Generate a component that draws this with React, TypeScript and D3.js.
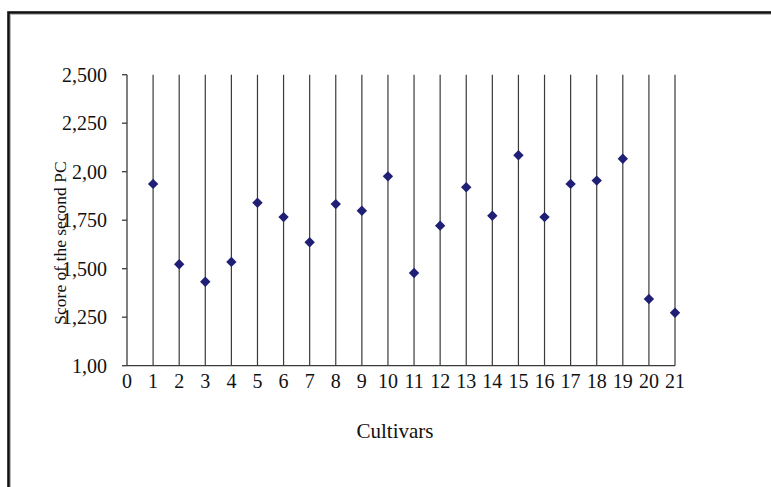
import React from "react";
import * as d3 from "d3";

const cultivars = [1, 2, 3, 4, 5, 6, 7, 8, 9, 10, 11, 12, 13, 14, 15, 16, 17, 18, 19, 20, 21];
const scores = [1.937, 1.523, 1.433, 1.535, 1.84, 1.766, 1.636, 1.833, 1.799, 1.976, 1.478, 1.722, 1.92, 1.773, 2.085, 1.766, 1.937, 1.954, 2.067, 1.344, 1.273];
const yTickValues = [1.0, 1.25, 1.5, 1.75, 2.0, 2.25, 2.5];
const yTickLabels = ["1,00", "1,250", "1,500", "1,750", "2,00", "2,250", "2,500"];
const xTickValues = d3.range(0, 22);

const W = 771;
const H = 487;
const FONT = "'Liberation Serif', 'Times New Roman', serif";

export default function App() {
  const x = d3.scaleLinear().domain([0, 21]).range([127, 675]);
  const y = d3.scaleLinear().domain([1, 2.5]).range([365.7, 74.7]);
  const diamond = d3.symbol().type(d3.symbolSquare).size(54)();
  const y0 = y(1);
  const yTop = y(2.5);

  return (
    <svg
      width={W}
      height={H}
      style={{ position: "absolute", left: 0, top: 0, background: "#fff" }}
    >
      <rect x={0} y={0} width={W} height={H} fill="#fff" />
      {/* frame */}
      <rect x={8.5} y={12.5} width={W + 20} height={H + 20} fill="none" stroke="#111" strokeWidth={2.6} />
      <rect x={10.5} y={14.5} width={W + 20} height={H + 20} fill="none" stroke="#bbb" strokeWidth={1} />

      {/* vertical lines at each cultivar */}
      {cultivars.map((c) => (
        <line key={"v" + c} x1={x(c)} x2={x(c)} y1={yTop} y2={y0} stroke="#3a3a3a" strokeWidth={1.2} />
      ))}

      {/* y axis */}
      <line x1={x(0)} x2={x(0)} y1={yTop} y2={y0} stroke="#3a3a3a" strokeWidth={1.3} />
      {yTickValues.map((v, i) => (
        <g key={"yt" + i}>
          <line x1={x(0) - 5} x2={x(0)} y1={y(v)} y2={y(v)} stroke="#3a3a3a" strokeWidth={1.3} />
          <text
            x={107}
            y={y(v)}
            dy="0.35em"
            textAnchor="end"
            fontFamily={FONT}
            fontSize={20}
            fill="#111"
          >
            {yTickLabels[i]}
          </text>
        </g>
      ))}

      {/* x axis */}
      <line x1={x(0)} x2={x(21)} y1={y0} y2={y0} stroke="#3a3a3a" strokeWidth={1.3} />
      {xTickValues.map((v) => (
        <text
          key={"xt" + v}
          x={x(v)}
          y={388}
          textAnchor="middle"
          fontFamily={FONT}
          fontSize={20}
          fill="#111"
        >
          {v}
        </text>
      ))}

      {/* points */}
      {cultivars.map((c, i) => (
        <path
          key={"p" + c}
          d={diamond}
          transform={`translate(${x(c)},${y(scores[i])}) rotate(45)`}
          fill="#1f1f75"
        />
      ))}

      {/* axis titles */}
      <text x={395} y={438} textAnchor="middle" fontFamily={FONT} fontSize={21} fill="#111">
        Cultivars
      </text>
      <text
        transform={`translate(66,243) rotate(-90)`}
        textAnchor="middle"
        fontFamily={FONT}
        fontSize={17.5}
        fill="#111"
      >
        Score of the second PC
      </text>
    </svg>
  );
}
